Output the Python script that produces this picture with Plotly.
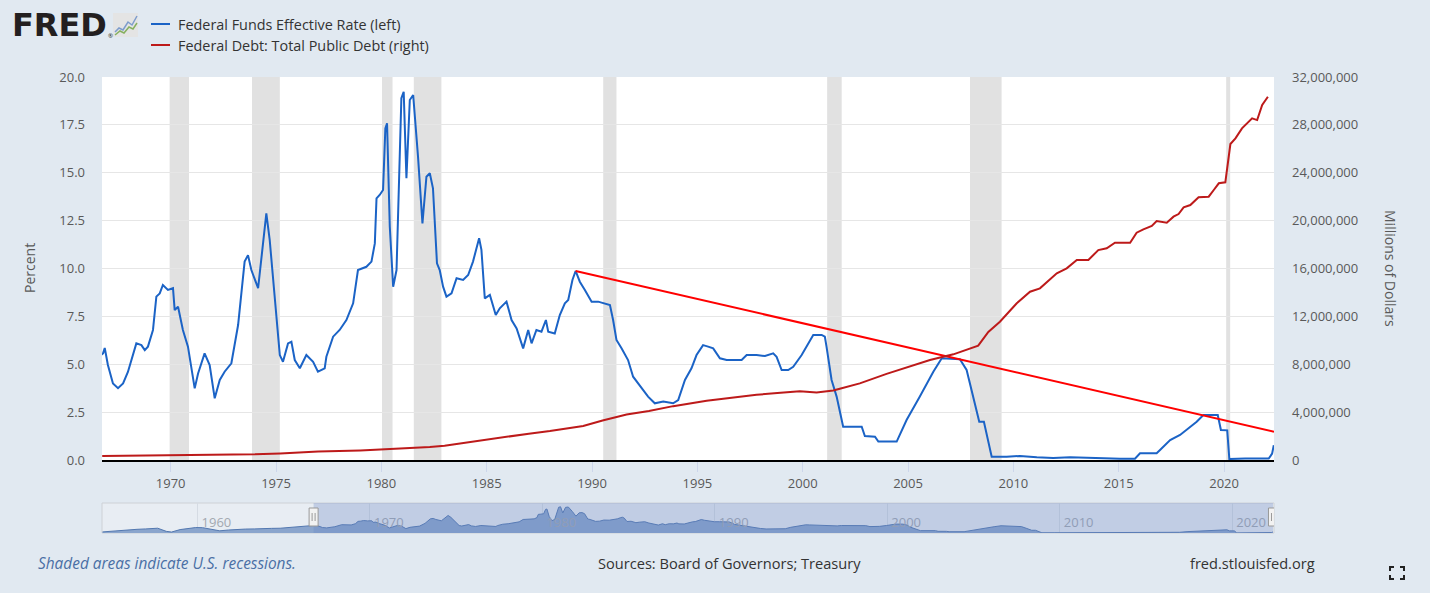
import plotly.graph_objects as go

# ---- data ----
# Federal Funds Effective Rate, percent (decimal years)
ff_year = [
    1954.50, 1955.00, 1955.50, 1956.00, 1956.50, 1957.00, 1957.70, 1958.20, 1958.50, 1959.00,
    1959.50, 1959.90, 1960.30, 1960.80, 1961.30, 1961.80, 1962.30, 1962.80, 1963.30, 1963.80,
    1964.30, 1964.80, 1965.30, 1965.80, 1966.30, 1966.60,
    1966.79, 1966.87, 1967.02, 1967.26, 1967.50, 1967.74, 1967.97, 1968.37, 1968.61, 1968.77,
    1968.92, 1969.16, 1969.32, 1969.48, 1969.63, 1969.87, 1970.11, 1970.19, 1970.35, 1970.58,
    1970.82, 1971.14, 1971.30, 1971.61, 1971.85, 1972.09, 1972.33, 1972.56, 1972.88, 1973.20,
    1973.51, 1973.67, 1973.83, 1974.15, 1974.38, 1974.54, 1974.70, 1974.86, 1975.18, 1975.33,
    1975.57, 1975.73, 1975.89, 1976.13, 1976.44, 1976.76, 1976.99, 1977.31, 1977.39, 1977.71,
    1978.02, 1978.34, 1978.66, 1978.89, 1979.29, 1979.53, 1979.69, 1979.77, 1979.92, 1980.08,
    1980.19, 1980.27, 1980.40, 1980.56, 1980.72, 1980.95, 1981.06, 1981.19, 1981.35, 1981.51,
    1981.74, 1981.95, 1982.14, 1982.30, 1982.45, 1982.64, 1982.77, 1982.93, 1983.09, 1983.33,
    1983.57, 1983.88, 1984.12, 1984.35, 1984.52, 1984.64, 1984.75, 1984.91, 1985.15, 1985.43,
    1985.62, 1985.94, 1986.18, 1986.42, 1986.73, 1986.97, 1987.13, 1987.36, 1987.60, 1987.81,
    1987.92, 1988.23, 1988.47, 1988.71, 1988.87, 1989.07, 1989.22, 1989.42, 1989.66, 1989.98,
    1990.29, 1990.61, 1990.85, 1991.00, 1991.16, 1991.40, 1991.71, 1991.95, 1992.19, 1992.43,
    1992.66, 1992.98, 1993.38, 1993.85, 1994.09, 1994.41, 1994.72, 1994.96, 1995.27, 1995.51,
    1995.75, 1996.07, 1996.39, 1996.70, 1997.10, 1997.34, 1997.81, 1998.21, 1998.60, 1998.76,
    1999.00, 1999.31, 1999.55, 1999.95, 2000.19, 2000.50, 2000.90, 2001.05, 2001.13, 2001.37,
    2001.61, 2001.92, 2002.80, 2002.95, 2003.43, 2003.59, 2004.46, 2004.93, 2005.56, 2006.20,
    2006.60, 2007.46, 2007.78, 2008.10, 2008.38, 2008.60, 2008.81, 2008.97, 2009.68, 2010.31,
    2011.11, 2011.89, 2012.69, 2013.48, 2014.30, 2015.06, 2015.77, 2016.01, 2016.80, 2016.96,
    2017.44, 2017.91, 2018.23, 2018.70, 2019.02, 2019.70, 2019.85, 2020.15, 2020.25, 2021.00,
    2022.00, 2022.12, 2022.20, 2022.28, 2022.36,
]
ff_rate = [
    0.80, 1.40, 1.70, 2.50, 2.70, 3.00, 3.50, 1.20, 0.70, 2.50,
    3.50, 4.00, 3.90, 2.50, 1.60, 2.20, 2.70, 2.90, 3.00, 3.40,
    3.40, 3.50, 4.00, 4.10, 4.70, 5.40,
    5.57, 5.85, 4.96, 4.00, 3.75, 4.00, 4.60, 6.09, 6.00, 5.74,
    5.92, 6.79, 8.53, 8.70, 9.14, 8.88, 8.97, 7.83, 8.00, 6.79,
    5.92, 3.74, 4.52, 5.57, 4.96, 3.22, 4.18, 4.61, 5.05, 7.05,
    10.36, 10.70, 9.92, 8.97, 11.31, 12.88, 11.49, 9.40, 5.48, 5.13,
    6.09, 6.18, 5.22, 4.79, 5.48, 5.13, 4.61, 4.79, 5.39, 6.44,
    6.79, 7.31, 8.18, 9.92, 10.09, 10.36, 11.31, 13.66, 13.84, 14.10,
    17.32, 17.58, 12.18, 9.05, 9.92, 18.89, 19.23, 14.71, 18.80, 19.06,
    15.84, 12.36, 14.79, 14.97, 14.19, 10.27, 9.92, 9.05, 8.53, 8.70,
    9.49, 9.40, 9.66, 10.36, 11.14, 11.58, 10.97, 8.44, 8.62, 7.57,
    7.92, 8.27, 7.31, 6.87, 5.83, 6.79, 6.09, 6.79, 6.70, 7.31,
    6.70, 6.61, 7.57, 8.18, 8.36, 9.40, 9.87, 9.31, 8.88, 8.27,
    8.27, 8.18, 8.09, 7.31, 6.27, 5.83, 5.22, 4.35, 4.00, 3.66,
    3.31, 2.96, 3.05, 2.96, 3.13, 4.18, 4.79, 5.48, 6.00, 5.92,
    5.83, 5.31, 5.22, 5.22, 5.22, 5.48, 5.48, 5.43, 5.57, 5.39,
    4.70, 4.70, 4.87, 5.48, 5.92, 6.53, 6.53, 6.44, 5.92, 4.18,
    3.31, 1.74, 1.74, 1.25, 1.22, 0.96, 0.96, 2.09, 3.31, 4.61,
    5.31, 5.26, 4.70, 3.31, 2.00, 2.00, 0.87, 0.17, 0.17, 0.21,
    0.14, 0.10, 0.14, 0.10, 0.09, 0.07, 0.07, 0.35, 0.35, 0.52,
    1.04, 1.31, 1.57, 2.00, 2.35, 2.35, 1.57, 1.55, 0.05, 0.08,
    0.08, 0.08, 0.20, 0.33, 0.77,
]

# Federal Debt: Total Public Debt, millions of dollars
debt_year = [
    1966.75, 1968.00, 1970.00, 1972.00, 1974.00, 1975.20, 1977.00, 1979.00, 1980.10, 1981.00,
    1982.30, 1983.00, 1983.70, 1985.00, 1985.94, 1987.00, 1988.00, 1989.58, 1990.50, 1991.64,
    1992.70, 1993.85, 1995.44, 1996.60, 1997.81, 1998.80, 1999.86, 2000.66, 2001.45, 2001.76,
    2002.40, 2002.71, 2003.98, 2005.09, 2006.04, 2007.15, 2007.78, 2008.10, 2008.33, 2008.81,
    2009.36, 2010.16, 2010.79, 2011.26, 2012.06, 2012.53, 2013.01, 2013.56, 2014.03, 2014.43,
    2014.82, 2015.54, 2015.85, 2016.17, 2016.57, 2016.80, 2017.28, 2017.60, 2017.84, 2018.08,
    2018.40, 2018.79, 2019.27, 2019.51, 2019.75, 2020.06, 2020.30, 2020.54, 2020.85, 2021.33,
    2021.57, 2021.81, 2022.08,
]
debt_total = [
    330000, 350000, 380000, 430000, 470000, 550000, 700000, 800000, 880000, 960000,
    1080000, 1200000, 1380000, 1710000, 1950000, 2200000, 2420000, 2840000, 3300000, 3800000,
    4100000, 4500000, 4950000, 5200000, 5450000, 5600000, 5740000, 5650000, 5800000, 5950000,
    6250000, 6400000, 7200000, 7850000, 8350000, 8830000, 9200000, 9450000, 9550000, 10700000,
    11550000, 13090000, 14060000, 14340000, 15600000, 16010000, 16710000, 16710000, 17540000, 17690000,
    18150000, 18150000, 18990000, 19270000, 19550000, 19970000, 19820000, 20330000, 20550000, 21110000,
    21300000, 21950000, 22000000, 22560000, 23120000, 23200000, 26400000, 26870000, 27710000, 28550000,
    28400000, 29660000, 30350000,
]

# hand-drawn trend line (left axis, percent)
trend_x = [1989.22, 2022.37]
trend_y = [9.87, 1.48]

# US recessions
rec_start = [1969.95, 1973.86, 1980.03, 1981.54, 1990.53, 2001.16, 2007.94, 2020.10]
rec_end = [1970.87, 1975.18, 1980.53, 1982.85, 1991.16, 2001.85, 2009.44, 2020.29]

view_range = [1966.74, 2022.37]   # zoomed window
nav_range = [1954.47, 2022.43]    # whole series in navigator

BLUE = "#1b63c6"
DEBT_RED = "#bd1a1a"
TEXT = "#595959"

# ---- page geometry helpers ----
W, H = 1430, 593
L, R, T, B = 102, 156, 77, 60


def fx(px):
    return (px - L) / (W - L - R)


def fy(py):
    return (H - B - py) / (H - T - B)


fig = go.Figure()

fig.add_trace(go.Scatter(x=ff_year, y=ff_rate, mode="lines", name="Federal Funds Effective Rate (left)",
                         line=dict(color=BLUE, width=2), xaxis="x", yaxis="y"))
fig.add_trace(go.Scatter(x=debt_year, y=debt_total, mode="lines", name="Federal Debt: Total Public Debt (right)",
                         line=dict(color=DEBT_RED, width=2), xaxis="x", yaxis="y2"))
fig.add_trace(go.Scatter(x=trend_x, y=trend_y, mode="lines", line=dict(color="#ff0000", width=2),
                         xaxis="x", yaxis="y", hoverinfo="skip"))
# navigator mini chart
fig.add_trace(go.Scatter(x=ff_year, y=ff_rate, mode="lines", fill="tozeroy",
                         line=dict(color="#5378b0", width=1), fillcolor="#8aa5cd",
                         xaxis="x2", yaxis="y3", hoverinfo="skip"))

shapes = []
for s, e in zip(rec_start, rec_end):
    shapes.append(dict(type="rect", xref="x", yref="y domain", x0=s, x1=e, y0=0, y1=1,
                       fillcolor="#e1e1e1", line_width=0, layer="below"))

# navigator background, selection mask and handles
shapes.append(dict(type="rect", xref="x2 domain", yref="y3 domain", x0=0, x1=1, y0=0, y1=1,
                   fillcolor="#e8edf3", line=dict(color="#cdd1d6", width=1), layer="below"))
shapes.append(dict(type="rect", xref="x2", yref="y3 domain", x0=view_range[0], x1=view_range[1],
                   y0=0, y1=1, fillcolor="rgba(102,133,194,0.3)", line_width=0, layer="above"))
for xv in view_range:
    shapes.append(dict(type="rect", xref="x2", yref="paper", xsizemode="pixel", xanchor=xv,
                       x0=-4.5, x1=4.5, y0=fy(526), y1=fy(508), fillcolor="#f2f2f2",
                       line=dict(color="#999999", width=1), layer="above"))
    for dx in (-1.5, 1.5):
        shapes.append(dict(type="line", xref="x2", yref="paper", xsizemode="pixel", xanchor=xv,
                           x0=dx, x1=dx, y0=fy(521), y1=fy(513),
                           line=dict(color="#999999", width=1), layer="above"))

# legend glyphs
shapes.append(dict(type="line", xref="paper", yref="paper", x0=fx(151), x1=fx(170), y0=fy(24), y1=fy(24),
                   line=dict(color=BLUE, width=2)))
shapes.append(dict(type="line", xref="paper", yref="paper", x0=fx(151), x1=fx(170), y0=fy(45), y1=fy(45),
                   line=dict(color=DEBT_RED, width=2)))

# FRED logo icon
shapes.append(dict(type="rect", xref="paper", yref="paper", x0=fx(113), x1=fx(138), y0=fy(37), y1=fy(13),
                   fillcolor="#e4e4e4", line_width=0))


def poly(points):
    return "M " + " L ".join(f"{fx(a):.5f},{fy(b):.5f}" for a, b in points)


shapes.append(dict(type="path", xref="paper", yref="paper",
                   path=poly([(115, 32), (119, 28), (123, 30), (128, 22), (132, 25), (137, 16)]),
                   line=dict(color="#7d9ccc", width=1.5)))
shapes.append(dict(type="path", xref="paper", yref="paper",
                   path=poly([(115, 35), (120, 31), (124, 33), (129, 27), (133, 29), (137, 23)]),
                   line=dict(color="#86b060", width=1.5)))

# fullscreen icon
for cx, cy, sx, sy in [(1390, 567, 1, 1), (1404, 567, -1, 1), (1390, 579, 1, -1), (1404, 579, -1, -1)]:
    shapes.append(dict(type="path", xref="paper", yref="paper",
                       path=poly([(cx, cy + 4 * sy), (cx, cy), (cx + 4 * sx, cy)]),
                       line=dict(color="#222222", width=2)))

font_main = "Open Sans"
annotations = [
    dict(text="<b>FRED</b>", x=fx(10), y=fy(25), xanchor="left", yanchor="middle",
         font=dict(family="DejaVu Sans", size=32, color="#231f20", weight=900)),
    dict(text="®", x=fx(106), y=fy(36), xanchor="left", yanchor="middle",
         font=dict(size=6, color="#231f20")),
    dict(text="Federal Funds Effective Rate (left)", x=fx(176), y=fy(24), xanchor="left", yanchor="middle",
         font=dict(size=14.4, color="#333333")),
    dict(text="Federal Debt: Total Public Debt (right)", x=fx(176), y=fy(45), xanchor="left", yanchor="middle",
         font=dict(size=14.4, color="#333333")),
    dict(text="Percent", x=fx(29), y=fy(268), textangle=-90, xanchor="center", yanchor="middle",
         font=dict(size=14, color=TEXT)),
    dict(text="Millions of Dollars", x=fx(1391), y=fy(268), textangle=90, xanchor="center", yanchor="middle",
         font=dict(size=14, color=TEXT)),
    dict(text="<i>Shaded areas indicate U.S. recessions.</i>", x=fx(36), y=fy(563), xanchor="left",
         yanchor="middle", font=dict(size=15.4, color="#4a6fa5")),
    dict(text="Sources: Board of Governors; Treasury", x=fx(729), y=fy(563), xanchor="center",
         yanchor="middle", font=dict(size=14.6, color="#333333")),
    dict(text="fred.stlouisfed.org", x=fx(1317), y=fy(563), xanchor="right", yanchor="middle",
         font=dict(size=14.6, color="#333333")),
]
for a in annotations:
    a.update(xref="paper", yref="paper", showarrow=False)

fig.update_layout(
    width=W, height=H,
    margin=dict(l=L, r=R, t=T, b=B, pad=0),
    paper_bgcolor="#e1e9f1",
    plot_bgcolor="white",
    font=dict(family=font_main, size=13, color=TEXT),
    showlegend=False,
    shapes=shapes,
    annotations=annotations,
    xaxis=dict(domain=[0, 1], anchor="y", range=view_range, tick0=1970, dtick=5,
               ticks="outside", ticklen=10, tickcolor="#ccd6eb", tickwidth=1,
               showgrid=False, zeroline=False, showline=True, linecolor="#000000", linewidth=2,
               tickfont=dict(size=13, color=TEXT)),
    yaxis=dict(domain=[fy(460), 1], anchor="x", range=[0, 20], dtick=2.5, tickformat=".1f",
               showgrid=True, gridcolor="#e6e6e6", zeroline=False, ticks="",
               ticklabelstandoff=16, tickfont=dict(size=13, color=TEXT)),
    yaxis2=dict(overlaying="y", side="right", anchor="x", range=[0, 32000000], dtick=4000000,
                tickformat=",d", showgrid=False, zeroline=False, ticks="",
                ticklabelstandoff=17, tickfont=dict(size=13, color=TEXT)),
    xaxis2=dict(domain=[0, 1], anchor="y3", range=nav_range, tick0=1960, dtick=10,
                showgrid=True, gridcolor="#d5dbe3", zeroline=False, showline=False, ticks="",
                ticklabelposition="inside", ticklabelshift=19,
                tickfont=dict(size=13, color="#a3a8b0")),
    yaxis3=dict(domain=[0, fy(503)], anchor="x2", range=[0, 22], showgrid=False,
                showticklabels=False, zeroline=False),
)

fig.write_html("out.html", config={"displayModeBar": False},
               post_script="document.body.style.margin='0';")
